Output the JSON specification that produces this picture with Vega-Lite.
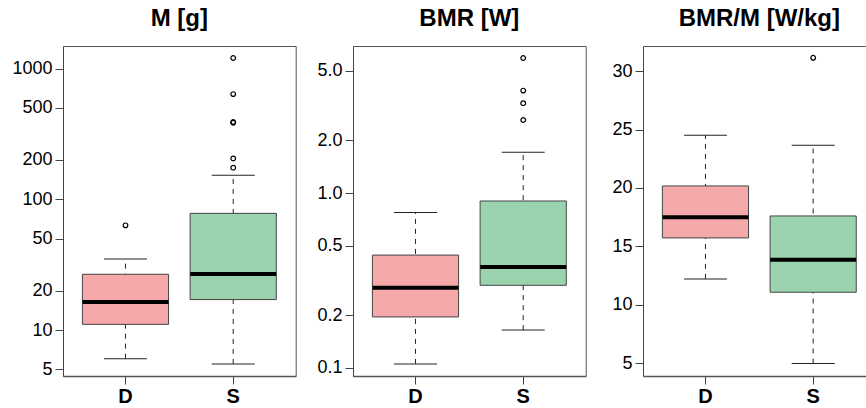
{
  "$schema": "https://vega.github.io/schema/vega-lite/v6.json",
  "padding": {"left": 11, "top": 6, "right": 0, "bottom": 0},
  "background": "white",
  "datasets": {
    "M_box": [
      {"group": "D", "lo": 6.04, "q1": 11.05, "med": 16.4, "q3": 26.7, "hi": 34.9},
      {"group": "S", "lo": 5.5, "q1": 17.1, "med": 26.8, "q3": 78.1, "hi": 153}
    ],
    "M_out": [
      {"group": "D", "value": 63.2},
      {"group": "S", "value": 174.6},
      {"group": "S", "value": 205.6},
      {"group": "S", "value": 385},
      {"group": "S", "value": 390},
      {"group": "S", "value": 638},
      {"group": "S", "value": 1205}
    ],
    "BMR_box": [
      {"group": "D", "lo": 0.105, "q1": 0.195, "med": 0.287, "q3": 0.441, "hi": 0.773},
      {"group": "S", "lo": 0.164, "q1": 0.296, "med": 0.377, "q3": 0.9, "hi": 1.71}
    ],
    "BMR_out": [
      {"group": "S", "value": 2.62},
      {"group": "S", "value": 3.27},
      {"group": "S", "value": 3.86},
      {"group": "S", "value": 5.93}
    ],
    "BMRM_box": [
      {"group": "D", "lo": 12.21, "q1": 15.72, "med": 17.49, "q3": 20.17, "hi": 24.5},
      {"group": "S", "lo": 4.97, "q1": 11.07, "med": 13.86, "q3": 17.6, "hi": 23.65}
    ],
    "BMRM_out": [
      {"group": "S", "value": 31.14}
    ]
  },
  "hconcat": [
    {
      "width": 232.7,
      "height": 330,
      "title": {"text": "M [g]"},
      "layer": [
        {
          "data": {"name": "M_box"},
          "mark": {"type": "rule", "strokeDash": [5, 5], "color": "#222", "strokeWidth": 1},
          "encoding": {
            "x": {"field": "group", "type": "nominal", "scale": {"domain": ["D", "S"], "paddingInner": 0.2, "paddingOuter": 0.18}, "axis": {"title": null}},
            "y": {"field": "lo", "type": "quantitative", "scale": {"type": "log", "domain": [4.45, 1489], "nice": false, "zero": false}, "axis": {"title": null, "values": [5, 10, 20, 50, 100, 200, 500, 1000], "format": "d"}},
            "y2": {"field": "hi"}
          }
        },
        {
          "data": {"name": "M_box"},
          "mark": {"type": "tick", "size": 43, "thickness": 1, "color": "#222", "opacity": 1},
          "encoding": {"x": {"field": "group", "type": "nominal"}, "y": {"field": "lo", "type": "quantitative"}}
        },
        {
          "data": {"name": "M_box"},
          "mark": {"type": "tick", "size": 43, "thickness": 1, "color": "#222", "opacity": 1},
          "encoding": {"x": {"field": "group", "type": "nominal"}, "y": {"field": "hi", "type": "quantitative"}}
        },
        {
          "data": {"name": "M_box"},
          "mark": {"type": "bar", "stroke": "#444", "strokeWidth": 1, "opacity": 1},
          "encoding": {
            "x": {"field": "group", "type": "nominal"},
            "y": {"field": "q1", "type": "quantitative"},
            "y2": {"field": "q3"},
            "fill": {"field": "group", "type": "nominal", "scale": {"domain": ["D", "S"], "range": ["#F5A9AB", "#9BD3AE"]}, "legend": null}
          }
        },
        {
          "data": {"name": "M_box"},
          "mark": {"type": "tick", "size": 86, "thickness": 4, "color": "black", "opacity": 1},
          "encoding": {"x": {"field": "group", "type": "nominal"}, "y": {"field": "med", "type": "quantitative"}}
        },
        {
          "data": {"name": "M_out"},
          "mark": {"type": "point", "shape": "circle", "filled": false, "size": 22, "strokeWidth": 1.2, "color": "black", "opacity": 1},
          "encoding": {"x": {"field": "group", "type": "nominal"}, "y": {"field": "value", "type": "quantitative"}}
        }
      ]
    },
    {
      "width": 232.7,
      "height": 330,
      "title": {"text": "BMR [W]"},
      "layer": [
        {
          "data": {"name": "BMR_box"},
          "mark": {"type": "rule", "strokeDash": [5, 5], "color": "#222", "strokeWidth": 1},
          "encoding": {
            "x": {"field": "group", "type": "nominal", "scale": {"domain": ["D", "S"], "paddingInner": 0.2, "paddingOuter": 0.18}, "axis": {"title": null}},
            "y": {"field": "lo", "type": "quantitative", "scale": {"type": "log", "domain": [0.0895, 6.95], "nice": false, "zero": false}, "axis": {"title": null, "values": [0.1, 0.2, 0.5, 1, 2, 5], "format": ".1f"}},
            "y2": {"field": "hi"}
          }
        },
        {
          "data": {"name": "BMR_box"},
          "mark": {"type": "tick", "size": 43, "thickness": 1, "color": "#222", "opacity": 1},
          "encoding": {"x": {"field": "group", "type": "nominal"}, "y": {"field": "lo", "type": "quantitative"}}
        },
        {
          "data": {"name": "BMR_box"},
          "mark": {"type": "tick", "size": 43, "thickness": 1, "color": "#222", "opacity": 1},
          "encoding": {"x": {"field": "group", "type": "nominal"}, "y": {"field": "hi", "type": "quantitative"}}
        },
        {
          "data": {"name": "BMR_box"},
          "mark": {"type": "bar", "stroke": "#444", "strokeWidth": 1, "opacity": 1},
          "encoding": {
            "x": {"field": "group", "type": "nominal"},
            "y": {"field": "q1", "type": "quantitative"},
            "y2": {"field": "q3"},
            "fill": {"field": "group", "type": "nominal", "scale": {"domain": ["D", "S"], "range": ["#F5A9AB", "#9BD3AE"]}, "legend": null}
          }
        },
        {
          "data": {"name": "BMR_box"},
          "mark": {"type": "tick", "size": 86, "thickness": 4, "color": "black", "opacity": 1},
          "encoding": {"x": {"field": "group", "type": "nominal"}, "y": {"field": "med", "type": "quantitative"}}
        },
        {
          "data": {"name": "BMR_out"},
          "mark": {"type": "point", "shape": "circle", "filled": false, "size": 22, "strokeWidth": 1.2, "color": "black", "opacity": 1},
          "encoding": {"x": {"field": "group", "type": "nominal"}, "y": {"field": "value", "type": "quantitative"}}
        }
      ]
    },
    {
      "width": 223.5,
      "height": 330,
      "view": {"stroke": null},
      "title": {"text": "BMR/M [W/kg]", "dx": 4.6},
      "resolve": {"axis": {"x": "independent"}},
      "layer": [
        {
          "data": {"name": "BMRM_box"},
          "mark": {"type": "rule", "strokeDash": [5, 5], "color": "#222", "strokeWidth": 1},
          "encoding": {
            "x": {"field": "group", "type": "nominal", "scale": {"domain": ["D", "S"], "paddingInner": 0.2, "paddingOuter": 0.1376, "align": 0.654}, "axis": {"title": null}},
            "y": {"field": "lo", "type": "quantitative", "scale": {"domain": [3.9, 32.15], "nice": false, "zero": false}, "axis": {"title": null, "values": [5, 10, 15, 20, 25, 30]}},
            "y2": {"field": "hi"}
          }
        },
        {
          "data": {"name": "BMRM_box"},
          "mark": {"type": "tick", "size": 43, "thickness": 1, "color": "#222", "opacity": 1},
          "encoding": {"x": {"field": "group", "type": "nominal", "axis": null}, "y": {"field": "lo", "type": "quantitative"}}
        },
        {
          "data": {"name": "BMRM_box"},
          "mark": {"type": "tick", "size": 43, "thickness": 1, "color": "#222", "opacity": 1},
          "encoding": {"x": {"field": "group", "type": "nominal", "axis": null}, "y": {"field": "hi", "type": "quantitative"}}
        },
        {
          "data": {"name": "BMRM_box"},
          "mark": {"type": "bar", "stroke": "#444", "strokeWidth": 1, "opacity": 1},
          "encoding": {
            "x": {"field": "group", "type": "nominal", "axis": null},
            "y": {"field": "q1", "type": "quantitative"},
            "y2": {"field": "q3"},
            "fill": {"field": "group", "type": "nominal", "scale": {"domain": ["D", "S"], "range": ["#F5A9AB", "#9BD3AE"]}, "legend": null}
          }
        },
        {
          "data": {"name": "BMRM_box"},
          "mark": {"type": "tick", "size": 86, "thickness": 4, "color": "black", "opacity": 1},
          "encoding": {"x": {"field": "group", "type": "nominal", "axis": null}, "y": {"field": "med", "type": "quantitative"}}
        },
        {
          "data": {"name": "BMRM_out"},
          "mark": {"type": "point", "shape": "circle", "filled": false, "size": 22, "strokeWidth": 1.2, "color": "black", "opacity": 1},
          "encoding": {
            "x": {"field": "group", "type": "nominal", "axis": {"orient": "top", "labels": false, "ticks": false, "domain": true, "title": null, "domainColor": "#555", "domainWidth": 1}},
            "y": {"field": "value", "type": "quantitative"}
          }
        }
      ]
    }
  ],
  "spacing": 57,
  "bounds": "flush",
  "config": {
    "font": "Liberation Sans",
    "view": {"stroke": "#555", "strokeWidth": 1},
    "title": {"fontSize": 24, "fontWeight": "bold", "color": "black", "anchor": "middle", "baseline": "alphabetic", "offset": 15, "font": "Liberation Sans"},
    "axis": {"grid": false, "labelFont": "Liberation Sans", "labelColor": "black", "domainColor": "#444", "tickColor": "#444", "labelOverlap": false, "labelFlush": false},
    "axisY": {"labelFontSize": 18, "tickSize": 8, "labelPadding": 3},
    "axisX": {"labelFontSize": 20, "labelFontWeight": "bold", "labelAngle": 0, "tickSize": 8, "labelPadding": 2, "domainColor": "#555", "domainWidth": 1.5, "maxExtent": 30}
  }
}
